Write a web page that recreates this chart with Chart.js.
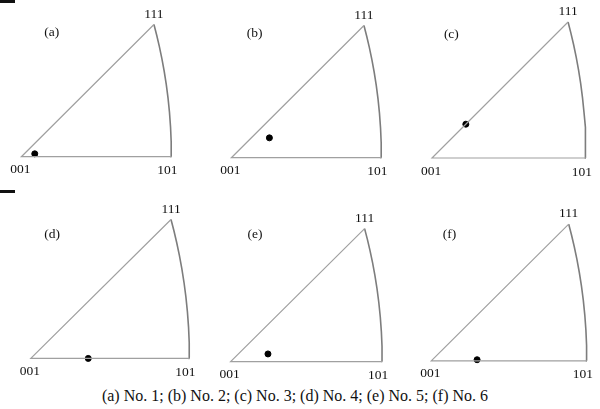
<!DOCTYPE html>
<html>
<head>
<meta charset="utf-8">
<script src="https://cdn.jsdelivr.net/npm/chart.js@4.4.0/dist/chart.umd.min.js"></script>
<style>
  body { margin: 0; background: #fff; width: 600px; height: 409px; position: relative; overflow: hidden; font-family: "Liberation Serif", "Times New Roman", serif; }
  canvas { position: absolute; }
  .bar { position: absolute; left: 0; width: 15px; height: 3px; background: #111; }
  #caption { position: absolute; left: 0; width: 590px; top: 387px; text-align: center; font-size: 16px; color: #111; white-space: nowrap; }
</style>
</head>
<body>
<div class="bar" style="top:0"></div>
<div class="bar" style="top:190px"></div>
<div id="caption"></div>
<script>
// panels and samples
const panelTags = ['(a)', '(b)', '(c)', '(d)', '(e)', '(f)'];
const sampleNames = ['No. 1', 'No. 2', 'No. 3', 'No. 4', 'No. 5', 'No. 6'];
// pole position of each sample, stereographic coords inside the 001-101-111 triangle
const poleX = [0.037, 0.105, 0.091, 0.150, 0.102, 0.122];
const poleY = [0.008, 0.055, 0.091, 0.000, 0.021, 0.003];
// corner directions
const cornerLabels = ['001', '101', '111'];
const cornerDirs = [[0, 0, 1], [1, 0, 1], [1, 1, 1]];
// k values of the [1 k 1] directions along the 101-111 edge
const arcK = [0, 0.1, 0.2, 0.3, 0.4, 0.5, 0.6, 0.7, 0.8, 0.9, 1];

// where each panel sits on the page (origin pixel, px per unit, tag spot)
const layout = [
    { ox: 18, oy: 160.5, s: 381, tx: 52, ty: 33 },
    { ox: 228, oy: 161, s: 381, tx: 255, ty: 33 },
    { ox: 428, oy: 161, s: 391, tx: 451, ty: 34 },
    { ox: 27, oy: 362, s: 401, tx: 52, ty: 234 },
    { ox: 227, oy: 365, s: 384, tx: 255, ty: 234 },
    { ox: 428, oy: 364, s: 394, tx: 450, ty: 234 }
];
const xr = [-0.07, 0.46];
const yr = [-0.07, 0.42];

const proj = (d) => {
    const n = Math.sqrt(d[0] * d[0] + d[1] * d[1] + d[2] * d[2]);
    return { x: d[0] / (n + d[2]), y: d[1] / (n + d[2]) };
};

const corners = cornerDirs.map(proj);
const straight = [corners[1], corners[0], corners[2]];
const arc = arcK.map(k => proj([1, k, 1]));

document.getElementById('caption').textContent =
    panelTags.map((t, i) => `${t} ${sampleNames[i]}`).join('; ');

const labelPlugin = {
    id: 'ipfLabels',
    afterDatasetsDraw(chart, args, opts) {
        const ctx = chart.ctx;
        const sx = chart.scales.x, sy = chart.scales.y;
        ctx.save();
        ctx.font = '13.5px "Liberation Serif", serif';
        ctx.fillStyle = '#111';
        ctx.textAlign = 'center';
        ctx.textBaseline = 'middle';
        const offs = [[-1, 13], [-4, 14], [0, -10.5]];
        corners.forEach((c, i) => {
            ctx.fillText(cornerLabels[i], sx.getPixelForValue(c.x) + offs[i][0], sy.getPixelForValue(c.y) + offs[i][1]);
        });
        ctx.fillText(opts.tag, opts.tx, opts.ty);
        ctx.restore();
    }
};

layout.forEach((p, i) => {
    const canvas = document.createElement('canvas');
    const w = Math.round((xr[1] - xr[0]) * p.s);
    const h = Math.round((yr[1] - yr[0]) * p.s);
    const left = p.ox + xr[0] * p.s;
    const top = p.oy - yr[1] * p.s;
    canvas.width = w;
    canvas.height = h;
    canvas.style.width = w + 'px';
    canvas.style.height = h + 'px';
    canvas.style.left = left + 'px';
    canvas.style.top = top + 'px';
    document.body.appendChild(canvas);

    new Chart(canvas.getContext('2d'), {
        type: 'scatter',
        data: {
            datasets: [
                { data: straight, showLine: true, borderColor: '#a0a0a0', borderWidth: 1.2, pointRadius: 0, clip: false },
                { data: arc, showLine: true, borderColor: '#7d7d7d', borderWidth: 1.6, pointRadius: 0, clip: false },
                { data: [{ x: poleX[i], y: poleY[i] }], backgroundColor: '#000', borderColor: '#000', pointRadius: 3, clip: false }
            ]
        },
        options: {
            responsive: false,
            animation: false,
            layout: { padding: 0 },
            plugins: {
                legend: { display: false },
                tooltip: { enabled: false },
                ipfLabels: { tag: panelTags[i], tx: p.tx - left, ty: p.ty - top }
            },
            scales: {
                x: { type: 'linear', display: false, min: xr[0], max: xr[1] },
                y: { type: 'linear', display: false, min: yr[0], max: yr[1] }
            }
        },
        plugins: [labelPlugin]
    });
});
</script>
</body>
</html>
